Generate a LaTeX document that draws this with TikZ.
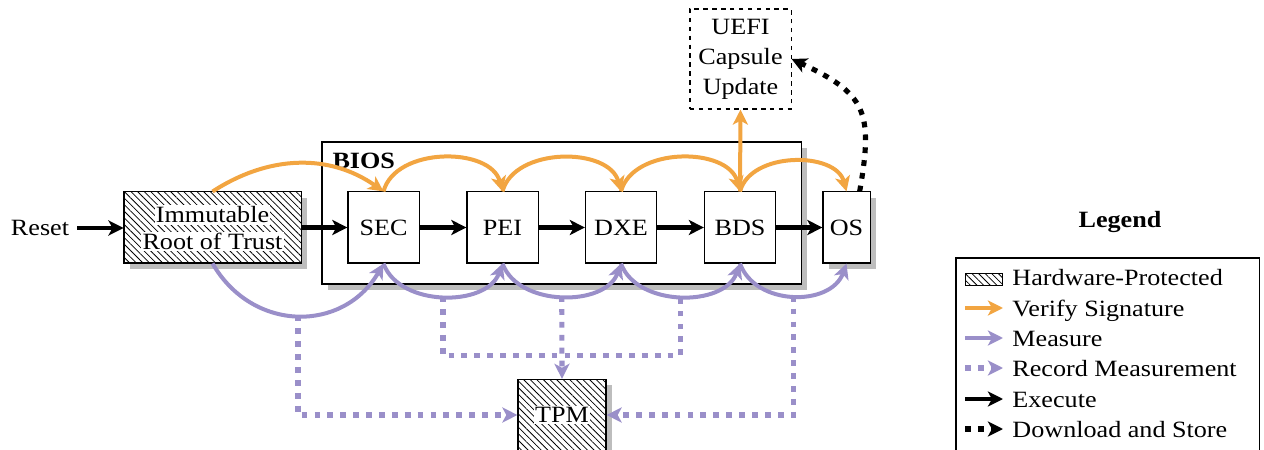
\documentclass[tikz,border=0pt]{standalone}
\usepackage{fontspec}
\setmainfont{Liberation Serif}[Scale=1.05,FakeStretch=1.12]
\usetikzlibrary{arrows.meta,patterns.meta,shadows,calc}
\definecolor{vorange}{HTML}{F2A541}
\definecolor{mpurple}{HTML}{9A8FC9}
\definecolor{shadowgray}{gray}{0.74}
\tikzset{
  box/.style={draw, line width=0.5pt, inner sep=0pt, align=center},
  stage/.style={box, fill=white, minimum width=32pt, minimum height=32pt},
  shadowed/.style={drop shadow={shadow xshift=2.7pt, shadow yshift=-2.7pt, fill=shadowgray, opacity=1}},
  hatched/.style={preaction={fill=white}, pattern={Lines[angle=-45,distance=2.1pt,line width=0.35pt]}},
  whitelabel/.style={fill=white, inner sep=0.6pt},
  tipstyle/.style={-{Stealth[length=6.8pt,width=6.8pt,inset=1.8pt]}},
  exec/.style={line width=2pt, tipstyle},
  verify/.style={draw=vorange, line width=1.8pt, tipstyle},
  measure/.style={draw=mpurple, line width=1.8pt, tipstyle},
  recline/.style={draw=mpurple, line width=2.3pt, dash pattern=on 2.6pt off 3.2pt},
  record/.style={recline, tipstyle},
  download/.style={line width=2.3pt, dash pattern=on 2.6pt off 3.2pt, tipstyle},
}
\begin{document}
\begin{tikzpicture}[x=0.45pt,y=0.45pt]
\useasboundingbox (0,0) rectangle (1264,-450);

% nodes
\node (reset) at (40,-228) {Reset};
\node[box, shadowed, hatched, minimum width=79.7pt, minimum height=32pt] (root) at (212.5,-227.5) {};
\node[whitelabel] (rootl1) at (212.5,-215) {Immutable};
\node[whitelabel] (rootl2) at (212.5,-241.5) {Root of Trust};

\node[box, shadowed, fill=white, minimum width=215.6pt, minimum height=63.9pt] (bios) at (561.5,-213) {};
\node[font=\bfseries, anchor=north west, inner sep=3pt] (bioslabel) at ($(bios.north west)+(4,-4)$) {BIOS};

\node[stage] (sec) at (383.5,-227.5) {SEC};
\node[stage] (pei) at (502.5,-227.5) {PEI};
\node[stage] (dxe) at (621,-227.5) {DXE};
\node[stage] (bds) at (740,-227.5) {BDS};
\node[box, shadowed, fill=white, minimum width=21.2pt, minimum height=32pt] (os) at (846.5,-227.5) {OS};

\node[box, dash pattern=on 2pt off 2pt, minimum width=45.5pt, minimum height=45pt] (uefi) at (740.5,-59) {UEFI\\[1.5pt]Capsule\\[1.5pt]Update};

\node[box, shadowed, hatched, minimum width=39.6pt, minimum height=32pt] (tpm) at (562,-415) {};
\node[whitelabel] (tpml) at (tpm) {TPM};

% execute
\draw[exec] (reset.east) -- (reset.east -| root.west);
\draw[exec] (root) -- (sec);
\draw[exec] (sec) -- (pei);
\draw[exec] (pei) -- (dxe);
\draw[exec] (dxe) -- (bds);
\draw[exec] (bds) -- (os);

% verify
\draw[verify] (root.north) to[out=33,in=145] (sec.north);
\draw[verify] (sec.north) to[out=75,in=105] (pei.north);
\draw[verify] (pei.north) to[out=75,in=105] (dxe.north);
\draw[verify] (dxe.north) to[out=75,in=105] (bds.north);
\draw[verify] (bds.north) to[out=75,in=105] (os.north);
\draw[verify] (bds.north) -- (uefi.south);

% measure
\draw[measure] (root.south) to[out=-60,in=-120,looseness=1.2] coordinate[pos=0.5] (m0) (sec.south);
\draw[measure] (sec.south) to[out=-70,in=-110] coordinate[pos=0.5] (m1) (pei.south);
\draw[measure] (pei.south) to[out=-70,in=-110] coordinate[pos=0.5] (m2) (dxe.south);
\draw[measure] (dxe.south) to[out=-70,in=-110] coordinate[pos=0.5] (m3) (bds.south);
\draw[measure] (bds.south) to[out=-70,in=-110,looseness=1.1] coordinate[pos=0.5] (m4) (os.south);

% record
\coordinate (junc) at ($(m2)+(0,-59)$);
\draw[recline] (m1) |- (junc) -| (m3);
\draw[record] (m2) -- (tpm.north);
\draw[record] (m0) |- (tpm.west);
\draw[record] (m4) |- (tpm.east);

% download
\draw[download] (os.70) to[out=80,in=-25,looseness=1.4] (uefi.east);

% legend
\node[font=\bfseries] (legtitle) at (1120,-222) {Legend};
\node[draw, line width=0.5pt, minimum width=136.4pt, minimum height=92pt, inner sep=0pt] (legbox) at (1107.5,-360.2) {};
\node[draw, line width=0.4pt, hatched, minimum width=17pt, minimum height=5pt, inner sep=0pt] (lg1) at (984,-279.5) {};
\coordinate (lg2a) at (965,-308); \coordinate (lg2b) at (1003,-308);
\coordinate (lg3a) at (965,-338); \coordinate (lg3b) at (1003,-338);
\coordinate (lg4a) at (965,-368); \coordinate (lg4b) at (1003,-368);
\coordinate (lg5a) at (965,-399); \coordinate (lg5b) at (1003,-399);
\coordinate (lg6a) at (965,-429); \coordinate (lg6b) at (1003,-429);
\draw[verify] (lg2a) -- (lg2b);
\draw[measure] (lg3a) -- (lg3b);
\draw[record] (lg4a) -- (lg4b);
\draw[exec] (lg5a) -- (lg5b);
\draw[download] (lg6a) -- (lg6b);
\node[anchor=base west, inner sep=0pt] (lt1) at (1012,-285) {Hardware-Protected};
\node[anchor=base west, inner sep=0pt] (lt2) at (1012,-316) {Verify Signature};
\node[anchor=base west, inner sep=0pt] (lt3) at (1012,-346) {Measure};
\node[anchor=base west, inner sep=0pt] (lt4) at (1012,-376) {Record Measurement};
\node[anchor=base west, inner sep=0pt] (lt5) at (1012,-407) {Execute};
\node[anchor=base west, inner sep=0pt] (lt6) at (1012,-437) {Download and Store};
\end{tikzpicture}
\end{document}
